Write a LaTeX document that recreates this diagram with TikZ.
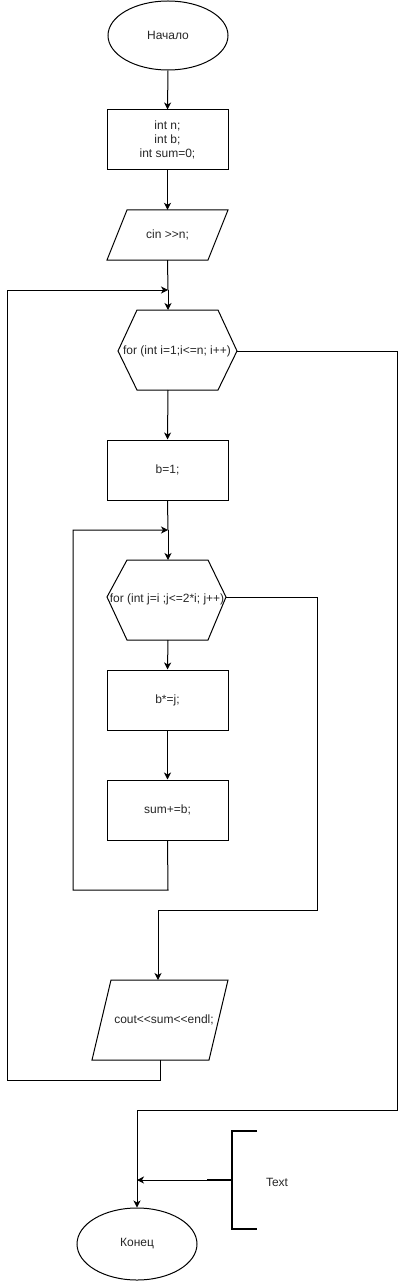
\documentclass[tikz,border=0pt]{standalone}
\usepackage{fontspec}
\setmainfont{Liberation Sans}[Ligatures=TeXOff]
\usetikzlibrary{arrows.meta,shapes.geometric}
\begin{document}
\begin{tikzpicture}[x=1pt,y=-1pt,
  every node/.style={font=\fontsize{12}{14}\selectfont, text=black!85, inner sep=0pt},
  shp/.style={draw=black, line width=1pt},
  ln/.style={draw=black, line width=1pt},
  arr/.style={ln, -{Stealth[length=7pt,width=7pt,inset=2pt]}},
  box/.style={shp, rectangle, minimum width=121pt, minimum height=60pt, align=center},
  term/.style={shp, ellipse, minimum width=120pt},
  anchorbox/.style={rectangle, minimum width=121pt}
]
\useasboundingbox (0,0) rectangle (406,1281);

% start
\node[term, minimum height=69pt] (start) at (168,35.5) {Начало};
% declarations
\node[box] (decl) at (167.5,140) {int n;\\int b;\\int sum=0;};
% cin parallelogram
\draw[shp] (127,210) -- (228,210) -- (208,260) -- (107,260) -- cycle;
\node[anchorbox, minimum height=50pt] (cin) at (167.5,235) {cin >\kern0pt>n;};
% hexagon 1
\draw[shp] (137,310) -- (218,310) -- (237,351) -- (218,390) -- (137,390) -- (118,351) -- cycle;
\node[rectangle, minimum width=119pt, minimum height=80pt] (for1) at (177.5,350) {};
\node (for1t) at (177,351) {for (int i=1;i<=n; i++)};
\coordinate (for1r) at (237,351);
\coordinate (for1b) at (168,390);
% b=1
\node[box] (b1) at (167.5,470) {b=1;};
% hexagon 2
\draw[shp] (127,560) -- (208,560) -- (226,597) -- (208,640) -- (127,640) -- (107,597) -- cycle;
\node[rectangle, minimum width=119pt, minimum height=80pt] (for2) at (167.5,600) {};
\node (for2t) at (167,599) {for (int j=i ;j<=2*i; j++)};
\coordinate (for2r) at (226,597);
% b*=j
\node[box] (bj) at (167.5,700) {b*=j;};
% sum+=b
\node[box] (sum) at (167.5,810) {sum+=b;};
% cout parallelogram
\draw[shp] (111,980) -- (228,980) -- (209,1060) -- (92,1060) -- cycle;
\node[rectangle, minimum width=117pt, minimum height=80pt] (cout) at (160,1020) {};
\node (coutt) at (164,1020) {cout<\kern0pt<sum<\kern0pt<endl;};
% end
\node[term, minimum height=72pt] (end) at (137,1244) {Конец};

% connectors
\draw[arr] (start.south) -- (decl.north);
\draw[arr] (decl.south) -- (cin.north);
\coordinate (j1) at (168,290);
\draw[ln] (cin.south) -- (j1);
\draw[arr] (j1) -- (168,310);
\draw[arr] (for1b) -- (b1.north);
\coordinate (j2) at (168,530);
\draw[ln] (b1.south) -- (j2);
\draw[arr] (j2) -- (168,560);
\draw[arr] (168,640) -- (bj.north);
\draw[arr] (bj.south) -- (sum.north);
% inner loop back
\draw[arr] (sum.south) -- (168,890) -- (73,890) -- (73,530) -- (j2);
% inner loop exit
\draw[arr] (for2r) -- (317,597) -- (317,910) -- (158,910) -- (158,980);
% outer loop back
\draw[arr] (160,1060) -- (160,1080) -- (7,1080) -- (7,290) -- (j1);
% outer loop exit
\draw[arr] (for1r) -- (397,351) -- (397,1110) -- (137,1110) -- (end.north);

% annotation
\coordinate (annmid) at (207,1180);
\draw[line width=2pt] (257,1131) -- (232,1131) -- (232,1229) -- (257,1229);
\draw[line width=2pt] (232,1180) -- (annmid);
\draw[arr] (annmid) -- (137,1180);
\node (anntext) at (277,1182) {Text};
\end{tikzpicture}
\end{document}
